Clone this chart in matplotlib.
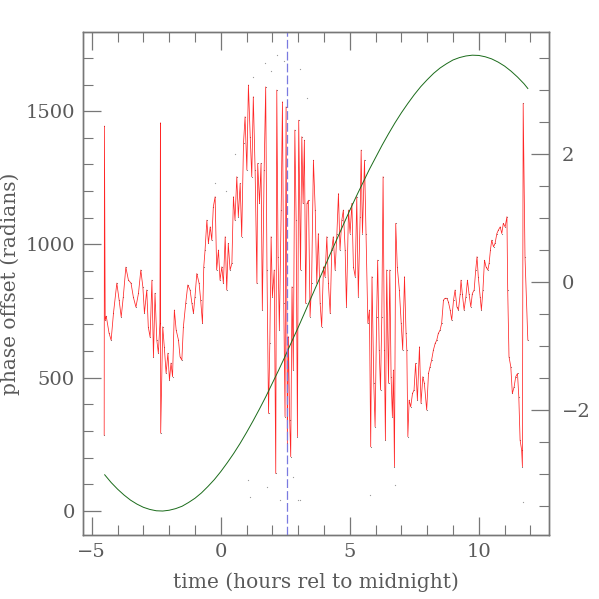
import matplotlib
matplotlib.use("Agg")
import matplotlib.pyplot as plt
from matplotlib.ticker import MultipleLocator

# ── phase trace (hours, radians) ─────────────────────────────────────
phase_t = [
    -4.52, -4.51, -4.48, -4.44, -4.33, -4.25, -4.16, -4.03, -3.94, -3.86,
    -3.78, -3.68, -3.58, -3.48, -3.39, -3.29, -3.19, -3.10, -3.02, -2.96,
    -2.87, -2.81, -2.74, -2.67, -2.61, -2.55, -2.48, -2.42, -2.36, -2.34,
    -2.33, -2.25, -2.19, -2.12, -2.05, -1.99, -1.93, -1.87, -1.80, -1.73,
    -1.64, -1.58, -1.51, -1.45, -1.36, -1.28, -1.19, -1.12, -1.06, -1.00,
    -0.93, -0.84, -0.78, -0.71, -0.66, -0.61, -0.54, -0.48, -0.41, -0.35,
    -0.29, -0.22, -0.16, -0.09, -0.03, 0.04, 0.10, 0.17, 0.23, 0.29,
    0.36, 0.43, 0.49, 0.55, 0.62, 0.68, 0.75, 0.81, 0.88, 0.94,
    1.01, 1.07, 1.14, 1.20, 1.26, 1.33, 1.40, 1.43, 1.50, 1.56,
    1.61, 1.68, 1.74, 1.79, 1.85, 1.90, 1.95, 2.00, 2.07, 2.13,
    2.17, 2.22, 2.27, 2.34, 2.39, 2.44, 2.49, 2.53, 2.58, 2.62,
    2.67, 2.71, 2.76, 2.81, 2.87, 2.92, 2.97, 3.02, 3.09, 3.14,
    3.19, 3.24, 3.29, 3.34, 3.40, 3.46, 3.52, 3.59, 3.66, 3.72,
    3.78, 3.85, 3.91, 3.98, 4.04, 4.11, 4.17, 4.24, 4.30, 4.36,
    4.43, 4.50, 4.56, 4.62, 4.69, 4.75, 4.82, 4.87, 4.95, 5.01,
    5.08, 5.14, 5.21, 5.27, 5.33, 5.40, 5.44, 5.49, 5.57, 5.63,
    5.70, 5.76, 5.81, 5.86, 5.93, 5.98, 6.04, 6.08, 6.14, 6.19,
    6.24, 6.29, 6.34, 6.38, 6.43, 6.50, 6.55, 6.60, 6.65, 6.69,
    6.73, 6.78, 6.84, 6.92, 6.99, 7.05, 7.12, 7.18, 7.21, 7.25,
    7.30, 7.36, 7.43, 7.49, 7.55, 7.62, 7.70, 7.76, 7.83, 7.89,
    7.98, 8.05, 8.11, 8.17, 8.24, 8.31, 8.37, 8.43, 8.50, 8.56,
    8.63, 8.69, 8.76, 8.82, 8.89, 8.95, 9.02, 9.08, 9.15, 9.21,
    9.28, 9.31, 9.36, 9.43, 9.50, 9.56, 9.62, 9.69, 9.75, 9.82,
    9.88, 9.93, 9.98, 10.05, 10.10, 10.16, 10.22, 10.28, 10.35, 10.40,
    10.45, 10.50, 10.57, 10.63, 10.70, 10.76, 10.83, 10.89, 10.95, 11.02,
    11.09, 11.12, 11.17, 11.24, 11.30, 11.37, 11.43, 11.50, 11.55, 11.60,
    11.66, 11.69, 11.72, 11.79, 11.90,
]
phase_v = [
    285, 1444, 716, 731, 667, 641, 742, 855, 791, 728,
    803, 915, 866, 855, 803, 765, 817, 904, 840, 742,
    829, 690, 652, 866, 577, 817, 641, 592, 704, 1456,
    292, 691, 616, 517, 592, 491, 555, 504, 754, 679,
    641, 579, 566, 691, 779, 848, 829, 779, 742, 804,
    891, 854, 791, 704, 916, 979, 1091, 1004, 1066, 1016,
    1141, 1179, 904, 979, 866, 916, 854, 1029, 829, 1004,
    904, 929, 1179, 1091, 1254, 1104, 1229, 1029, 1379, 1479,
    1279, 1598, 1404, 1254, 1554, 1279, 854, 1304, 1154, 1304,
    754, 1279, 1591, 904, 366, 629, 1029, 804, 904, 141,
    1579, 954, 679, 1129, 1535, 779, 354, 1516, 254, 654,
    341, 204, 841, 529, 1429, 1091, 279, 1466, 904, 1404,
    1154, 1391, 779, 1154, 1166, 729, 854, 1316, 1129, 854,
    1041, 779, 691, 916, 879, 1029, 854, 741, 979, 1029,
    904, 1041, 1191, 979, 1091, 1129, 979, 766, 1129, 1041,
    1154, 916, 879, 1179, 804, 1104, 1354, 1041, 1316, 1041,
    704, 754, 241, 879, 479, 316, 729, 941, 604, 454,
    729, 1254, 604, 266, 904, 479, 904, 504, 354, 529,
    166, 1079, 916, 829, 704, 604, 879, 666, 604, 279,
    416, 391, 441, 454, 554, 416, 616, 404, 504, 479,
    379, 516, 541, 566, 604, 629, 641, 666, 679, 704,
    791, 798, 798, 785, 754, 716, 791, 829, 766, 754,
    816, 866, 816, 754, 804, 866, 816, 766, 816, 829,
    904, 954, 879, 804, 754, 829, 941, 916, 904, 929,
    979, 1016, 991, 1004, 1041, 1054, 1066, 1041, 1079, 1066,
    1104, 829, 579, 541, 441, 466, 504, 516, 429, 266,
    229, 166, 1529, 954, 641,
]

# stray points off the trace
stray_t = [2.17, 1.72, 3.07, 1.26, 3.33, 0.55, -0.22, 1.07, 2.30, 3.01,
           1.13, 2.81, 1.78, 5.79, 6.76, 11.70, 3.07, 2.45, 1.95, 0.20]
stray_v = [1710, 1679, 1660, 1629, 1548, 1341, 1229, 116, 41, 41,
           54, 129, 91, 60, 98, 35, 41, 1690, 1650, 1200]

# ── model curve ─────────────────────────────────────────────────────
model_t = [-4.5, -4.25, -4.0, -3.75, -3.5, -3.25, -3.0, -2.75, -2.5, -2.25,
           -2.0, -1.75, -1.5, -1.25, -1.0, -0.75, -0.5, -0.25, 0.0, 0.25,
           0.5, 0.75, 1.0, 1.25, 1.5, 1.75, 2.0, 2.25, 2.5, 2.75,
           3.0, 3.25, 3.5, 3.75, 4.0, 4.25, 4.5, 4.75, 5.0, 5.25,
           5.5, 5.75, 6.0, 6.25, 6.5, 6.75, 7.0, 7.25, 7.5, 7.75,
           8.0, 8.25, 8.5, 8.75, 9.0, 9.25, 9.5, 9.75, 10.0, 10.25,
           10.5, 10.75, 11.0, 11.25, 11.5, 11.75, 11.9]
model_v = [136, 107, 82, 60, 41, 26, 14, 6, 1, 0,
           3, 9, 18, 32, 48, 68, 92, 118, 148, 181,
           216, 254, 295, 338, 383, 430, 480, 530, 582, 636,
           689, 744, 800, 855, 910, 966, 1020, 1074, 1128, 1180,
           1230, 1280, 1326, 1372, 1415, 1456, 1494, 1529, 1562, 1592,
           1618, 1642, 1662, 1678, 1692, 1701, 1707, 1710, 1709, 1704,
           1696, 1684, 1669, 1650, 1628, 1603, 1585]

marker_t = 2.58

AXIS_GREY = "#777777"
TEXT_GREY = "#5a5a5a"

plt.rcParams["font.family"] = ["DejaVu Serif"]

fig = plt.figure(figsize=(5.99, 5.99), dpi=100)
ax = fig.add_axes([0.1386, 0.1068, 0.9165 - 0.1386, 0.9466 - 0.1068])

ax.plot(phase_t, phase_v, "o", color="#222222", ms=0.8, mew=0, alpha=0.6, zorder=2)
ax.plot(stray_t, stray_v, "o", color="#999999", ms=0.9, mew=0, zorder=2)
ax.plot(phase_t, phase_v, color="red", lw=0.55, alpha=0.85, zorder=3)
ax.plot(model_t, model_v, color="#1a6b1a", lw=0.7, zorder=4)
ax.axvline(marker_t, color="#7a7ae0", lw=0.9, dashes=(7, 2.5), zorder=5)

ax.set_xlim(-5.34, 12.72)
ax.set_ylim(-90, 1797)
ax.set_xlabel("time (hours rel to midnight)", fontsize=14.5, color=TEXT_GREY, labelpad=8)
ax.set_ylabel("phase offset (radians)", fontsize=14.5, color=TEXT_GREY, labelpad=4)

ax.xaxis.set_major_locator(MultipleLocator(5))
ax.xaxis.set_minor_locator(MultipleLocator(1))
ax.yaxis.set_major_locator(MultipleLocator(500))
ax.yaxis.set_minor_locator(MultipleLocator(100))
ax.tick_params(which="both", direction="in", colors=AXIS_GREY, labelcolor=TEXT_GREY,
               labelsize=14, top=True, right=False)
ax.tick_params(which="major", length=13, width=0.9, pad=6)
ax.tick_params(which="minor", length=7, width=0.8)

ax2 = ax.twinx()
ax2.set_ylim(-3.95, 3.91)
ax2.yaxis.set_major_locator(MultipleLocator(2))
ax2.yaxis.set_minor_locator(MultipleLocator(0.5))
ax2.tick_params(which="both", direction="in", colors=AXIS_GREY, labelcolor=TEXT_GREY,
                labelsize=14)
ax2.tick_params(which="major", length=13, width=0.9, pad=9)
ax2.tick_params(which="minor", length=7, width=0.8)

for a in (ax, ax2):
    for s in a.spines.values():
        s.set_color(AXIS_GREY)
        s.set_linewidth(1.0)

fig.savefig("out.png", dpi=100)
